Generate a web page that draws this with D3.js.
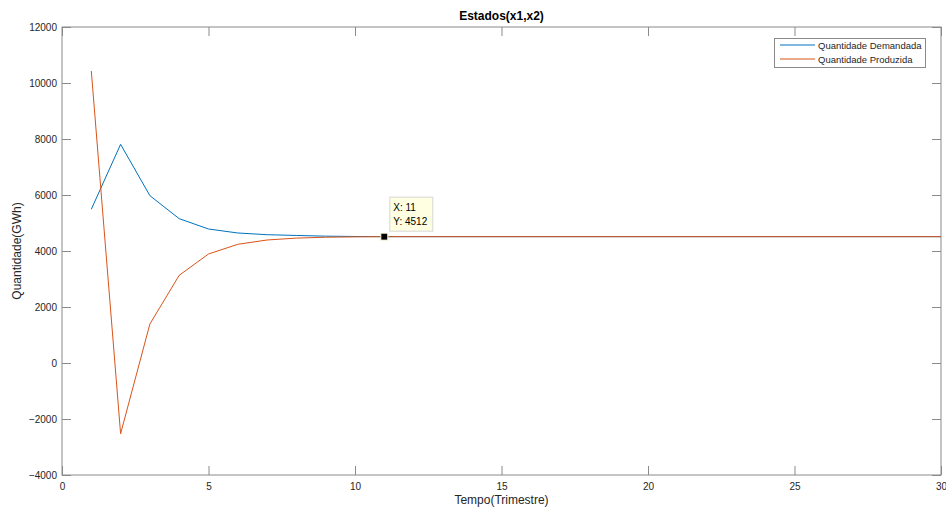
<!DOCTYPE html>
<html>
<head>
<meta charset="utf-8">
<script src="https://cdn.jsdelivr.net/npm/d3@7"></script>
<style>
  body { margin: 0; background: #fff; }
  svg { display: block; font-family: "Liberation Sans", Arial, Helvetica, sans-serif; }
</style>
</head>
<body>
<svg id="chart" width="946" height="512"></svg>
<script>
// Quarter index (Trimestre)
const periods = d3.range(1, 31);
// Quantidade Demandada (GWh)
const demanded = [5490, 7810, 5975, 5155, 4786, 4643, 4582, 4555, 4530, 4518,
  4512, 4512, 4512, 4512, 4512, 4512, 4512, 4512, 4512, 4512,
  4512, 4512, 4512, 4512, 4512, 4512, 4512, 4512, 4512, 4512];
// Quantidade Produzida (GWh)
const produced = [10430, -2525, 1393, 3131, 3893, 4239, 4393, 4460, 4492, 4505,
  4512, 4512, 4512, 4512, 4512, 4512, 4512, 4512, 4512, 4512,
  4512, 4512, 4512, 4512, 4512, 4512, 4512, 4512, 4512, 4512];
const seriesNames = ["Quantidade Demandada", "Quantidade Produzida"];
const seriesColors = ["#0072BD", "#D95319"];
const xTicks = [0, 5, 10, 15, 20, 25, 30];
const yTicks = [-4000, -2000, 0, 2000, 4000, 6000, 8000, 10000, 12000];
// Highlighted data tip
const tipX = 11;
const tipY = 4512;

const svg = d3.select("#chart");
const plotL = 62, plotR = 941, plotT = 27, plotB = 475;
const axisColor = "#8a8a8a", textColor = "#262626";

const x = d3.scaleLinear().domain([0, 30]).range([plotL, plotR]);
const y = d3.scaleLinear().domain([-4000, 12000]).range([plotB, plotT]);

// Axis box
svg.append("rect")
  .attr("x", plotL).attr("y", plotT)
  .attr("width", plotR - plotL).attr("height", plotB - plotT)
  .attr("fill", "none").attr("stroke", axisColor).attr("stroke-width", 1);

function styleAxis(g, showLabels) {
  g.select(".domain").remove();
  g.selectAll(".tick line").attr("stroke", axisColor);
  g.selectAll(".tick text").attr("fill", textColor).attr("font-size", 10)
    .attr("font-family", "Liberation Sans, Arial, sans-serif");
  if (!showLabels) g.selectAll(".tick text").remove();
}

// Bottom and top x axes (ticks inside)
svg.append("g").attr("transform", `translate(0,${plotB})`)
  .call(d3.axisBottom(x).tickValues(xTicks).tickSizeInner(-9).tickSizeOuter(0).tickPadding(8))
  .call(g => styleAxis(g, true));
svg.append("g").attr("transform", `translate(0,${plotT})`)
  .call(d3.axisTop(x).tickValues(xTicks).tickSizeInner(-9).tickSizeOuter(0))
  .call(g => styleAxis(g, false));
// Left and right y axes
svg.append("g").attr("transform", `translate(${plotL},0)`)
  .call(d3.axisLeft(y).tickValues(yTicks).tickSizeInner(-9).tickSizeOuter(0).tickPadding(5).tickFormat(d3.format("d")))
  .call(g => styleAxis(g, true));
svg.append("g").attr("transform", `translate(${plotR},0)`)
  .call(d3.axisRight(y).tickValues(yTicks).tickSizeInner(-9).tickSizeOuter(0))
  .call(g => styleAxis(g, false));

// Series lines
const line = d3.line().x(d => x(d[0])).y(d => y(d[1]));
[demanded, produced].forEach((vals, i) => {
  svg.append("path")
    .datum(periods.map((p, k) => [p, vals[k]]))
    .attr("fill", "none")
    .attr("stroke", seriesColors[i])
    .attr("stroke-width", 1)
    .attr("d", line);
});

// Title and axis labels
svg.append("text").attr("x", (plotL + plotR) / 2).attr("y", 20)
  .attr("text-anchor", "middle").attr("font-size", 12).attr("font-weight", "bold")
  .attr("fill", "#000").text("Estados(x1,x2)");
svg.append("text").attr("x", (plotL + plotR) / 2).attr("y", 504)
  .attr("text-anchor", "middle").attr("font-size", 12)
  .attr("fill", textColor).text("Tempo(Trimestre)");
svg.append("text")
  .attr("transform", `translate(21,${(plotT + plotB) / 2}) rotate(-90)`)
  .attr("text-anchor", "middle").attr("font-size", 12)
  .attr("fill", textColor).text("Quantidade(GWh)");

// Legend
const lg = svg.append("g");
lg.append("rect").attr("x", 774.5).attr("y", 38.5).attr("width", 151).attr("height", 29)
  .attr("fill", "#fff").attr("stroke", axisColor);
seriesNames.forEach((name, i) => {
  const ly = 45 + i * 14;
  lg.append("line").attr("x1", 780).attr("x2", 815).attr("y1", ly).attr("y2", ly)
    .attr("stroke", seriesColors[i]).attr("stroke-width", 1);
  lg.append("text").attr("x", 818).attr("y", ly + 3.5).attr("font-size", 9.5)
    .attr("fill", textColor).text(name);
});

// Data tip
const tx = x(tipX), ty = y(tipY);
const tip = svg.append("g");
tip.append("rect").attr("x", tx + 5.5).attr("y", ty - 39.5).attr("width", 43).attr("height", 34)
  .attr("fill", "#ffffe1").attr("stroke", "#d6d6d6");
tip.append("text").attr("x", tx + 9).attr("y", ty - 26).attr("font-size", 10)
  .attr("fill", "#000").text(`X: ${tipX}`);
tip.append("text").attr("x", tx + 9).attr("y", ty - 12).attr("font-size", 10)
  .attr("fill", "#000").text(`Y: ${tipY}`);
tip.append("rect").attr("x", tx - 3.5).attr("y", ty - 3.5).attr("width", 7).attr("height", 7)
  .attr("fill", "#000").attr("stroke", "#ffffe1").attr("stroke-width", 1);
</script>
</body>
</html>
